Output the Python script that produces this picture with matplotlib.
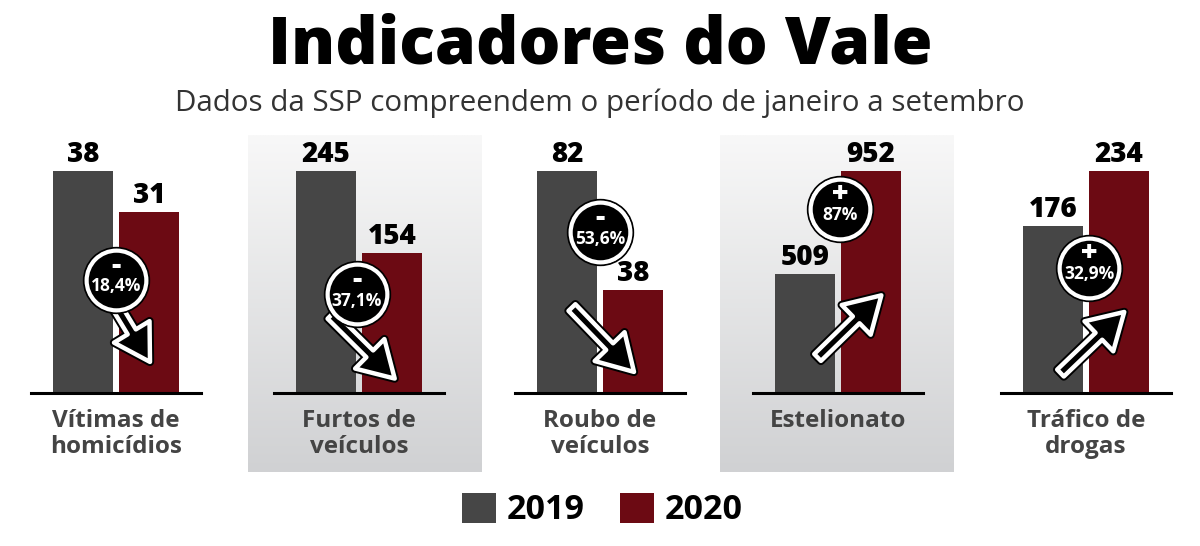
import numpy as np
import matplotlib
matplotlib.use("Agg")
import matplotlib.pyplot as plt
from matplotlib.patches import Patch

plt.rcParams["font.family"] = ["Open Sans", "DejaVu Sans"]

# data
categories = ["Vítimas de\nhomicídios", "Furtos de\nveículos", "Roubo de\nveículos",
              "Estelionato", "Tráfico de\ndrogas"]
values_2019 = [38, 245, 82, 509, 176]
values_2020 = [31, 154, 38, 952, 234]
signs = ["-", "-", "-", "+", "+"]
changes = ["18,4%", "37,1%", "53,6%", "87%", "32,9%"]
years = ["2019", "2020"]

GRAY = "#464646"
RED = "#6c0a13"
W, H = 1200, 546

# layout (pixels / axes fractions) for decorations
centers = [116, 359, 600, 838, 1086]
shaded_left = [248, 720]
badge_pos = [(0.50, 0.51), (0.488, 0.445), (0.50, 0.725), (0.512, 0.83), (0.518, 0.565)]
arrow_pos = [((0.49, 0.405), (0.70, 0.14)),
             ((0.335, 0.35), (0.71, 0.065)),
             ((0.335, 0.385), (0.70, 0.095)),
             ((0.38, 0.16), (0.755, 0.44)),
             ((0.35, 0.09), (0.725, 0.365))]

fig = plt.figure(figsize=(W / 100, H / 100), dpi=100)

def fx(x):
    return x / W

def fy(y):
    return 1 - y / H

# gradient backgrounds
grad = np.linspace(0, 1, 256).reshape(-1, 1)
for left in shaded_left:
    bg = fig.add_axes([fx(left), fy(472), fx(234), (472 - 135) / H], zorder=0)
    bg.imshow(grad, aspect="auto", cmap=matplotlib.colors.LinearSegmentedColormap.from_list(
        "g", ["#f8f8f8", "#d0d1d3"]), extent=[0, 1, 0, 1], origin="upper")
    bg.axis("off")

fig.text(0.5, fy(46), "Indicadores do Vale", ha="center", va="center",
         fontsize=47.5, fontweight="heavy", color="black")
fig.text(0.5, fy(103), "Dados da SSP compreendem o período de janeiro a setembro",
         ha="center", va="center", fontsize=21.3, color="#333333")

for i, cat in enumerate(categories):
    ax = fig.add_axes([fx(centers[i] - 85), fy(393), fx(170), 222 / H], zorder=2)
    ax.patch.set_alpha(0)
    top = max(values_2019[i], values_2020[i])
    ax.bar([-0.55, 0.55], [values_2019[i], values_2020[i]], width=1.0,
           color=[GRAY, RED], zorder=2)
    ax.set_xlim(-1.42, 1.42)
    ax.set_ylim(0, top)
    for xb, v in zip([-0.55, 0.55], [values_2019[i], values_2020[i]]):
        ax.annotate(str(v), (xb, v), xytext=(0, 1.5), textcoords="offset points",
                    ha="center", va="bottom", fontsize=20, fontweight="heavy",
                    color="black", annotation_clip=False)
    for s in ["top", "left", "right"]:
        ax.spines[s].set_visible(False)
    ax.spines["bottom"].set_linewidth(2.2)
    ax.spines["bottom"].set_zorder(5)
    ax.set_xticks([])
    ax.set_yticks([])
    ax.text(0.5, -0.07, cat, transform=ax.transAxes, ha="center", va="top",
            fontsize=17.5, fontweight="bold", color="#444444", linespacing=1.12)

    # arrow
    (x0, y0), (x1, y1) = arrow_pos[i]
    for ec, lw in [("black", 6.0), ("white", 3.2)]:
        ax.annotate("", xy=(x1, y1), xytext=(x0, y0), xycoords="axes fraction",
                    arrowprops=dict(arrowstyle="simple,head_length=1.1,head_width=1.3,tail_width=0.3",
                                    fc="black", ec=ec, lw=lw, mutation_scale=23,
                                    shrinkA=0, shrinkB=0), zorder=6)

    # badge
    bx, by = badge_pos[i]
    ax.plot([bx], [by], "o", transform=ax.transAxes, ms=47, mfc="none", mec="black",
            mew=1.5, zorder=7, clip_on=False)
    ax.plot([bx], [by], "o", transform=ax.transAxes, ms=43, mfc="black", mec="white",
            mew=3, zorder=7, clip_on=False)
    ax.text(bx, by + 0.065, signs[i], transform=ax.transAxes, ha="center", va="center",
            fontsize=21, fontweight="heavy", color="white", zorder=8)
    ax.text(bx, by - 0.03, changes[i], transform=ax.transAxes, ha="center", va="center",
            fontsize=12.5, fontweight="bold", color="white", zorder=8)

handles = [Patch(facecolor=GRAY, label=years[0]), Patch(facecolor=RED, label=years[1])]
leg = fig.legend(handles=handles, loc="center", bbox_to_anchor=(0.502, fy(510)), ncol=2,
                 frameon=False, handlelength=1.0, handleheight=1.0, handletextpad=0.3,
                 columnspacing=1.05, prop=dict(size=24.5, weight="bold"))

fig.savefig("out.png", dpi=100)
